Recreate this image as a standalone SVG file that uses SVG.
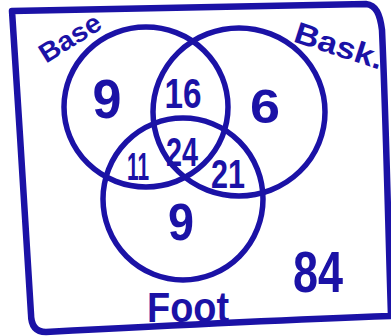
<svg xmlns="http://www.w3.org/2000/svg" width="391" height="336" viewBox="0 0 391 336">
<style>
.ln{fill:none;stroke:#1b12a6;stroke-width:5.5;stroke-linecap:round;stroke-linejoin:round}
.fr{stroke-width:6.5}
.t{fill:#1b12a6;font-family:"Liberation Sans","DejaVu Sans",sans-serif;font-weight:bold;text-anchor:middle}
</style>
<rect width="391" height="336" fill="#ffffff"/>
<g id="frame">
<path class="ln fr" d="M12,11 C120,9 250,6 366,4 C376,5 380,14 382,30 C386,120 388,220 391,316 M391,316 C280,320 160,326 46,332 C36,332 31,326 31,314 C26,220 18,110 12,11"/>
</g>
<g id="base">
<ellipse class="ln" cx="146" cy="107" rx="82" ry="80"/>
<text class="t" transform="translate(70,38) rotate(-32)" font-size="27" dy="9" textLength="68" lengthAdjust="spacingAndGlyphs">Base</text>
</g>
<g id="bask">
<ellipse class="ln" cx="239" cy="112" rx="86" ry="84"/>
<text class="t" transform="translate(339,46) rotate(18)" font-size="30" dy="10" textLength="92" lengthAdjust="spacingAndGlyphs">Bask.</text>
</g>
<g id="foot">
<ellipse class="ln" cx="183" cy="199" rx="80" ry="81"/>
<text class="t" x="188" y="322" font-size="42" textLength="82" lengthAdjust="spacingAndGlyphs">Foot</text>
</g>
<g id="counts">
<text class="t" x="107" y="118" font-size="56" textLength="29" lengthAdjust="spacingAndGlyphs">9</text>
<text class="t" x="183" y="108" font-size="42" textLength="37" lengthAdjust="spacingAndGlyphs">16</text>
<text class="t" x="265" y="123" font-size="48" textLength="30" lengthAdjust="spacingAndGlyphs">6</text>
<text class="t" x="182" y="166" font-size="40" textLength="32" lengthAdjust="spacingAndGlyphs">24</text>
<text class="t" x="138" y="180" font-size="38" textLength="22" lengthAdjust="spacingAndGlyphs">11</text>
<text class="t" x="228" y="188" font-size="40" textLength="34" lengthAdjust="spacingAndGlyphs">21</text>
<text class="t" x="181" y="240" font-size="52" textLength="26" lengthAdjust="spacingAndGlyphs">9</text>
<text class="t" x="318" y="292" font-size="58" textLength="50" lengthAdjust="spacingAndGlyphs">84</text>
</g>
</svg>
